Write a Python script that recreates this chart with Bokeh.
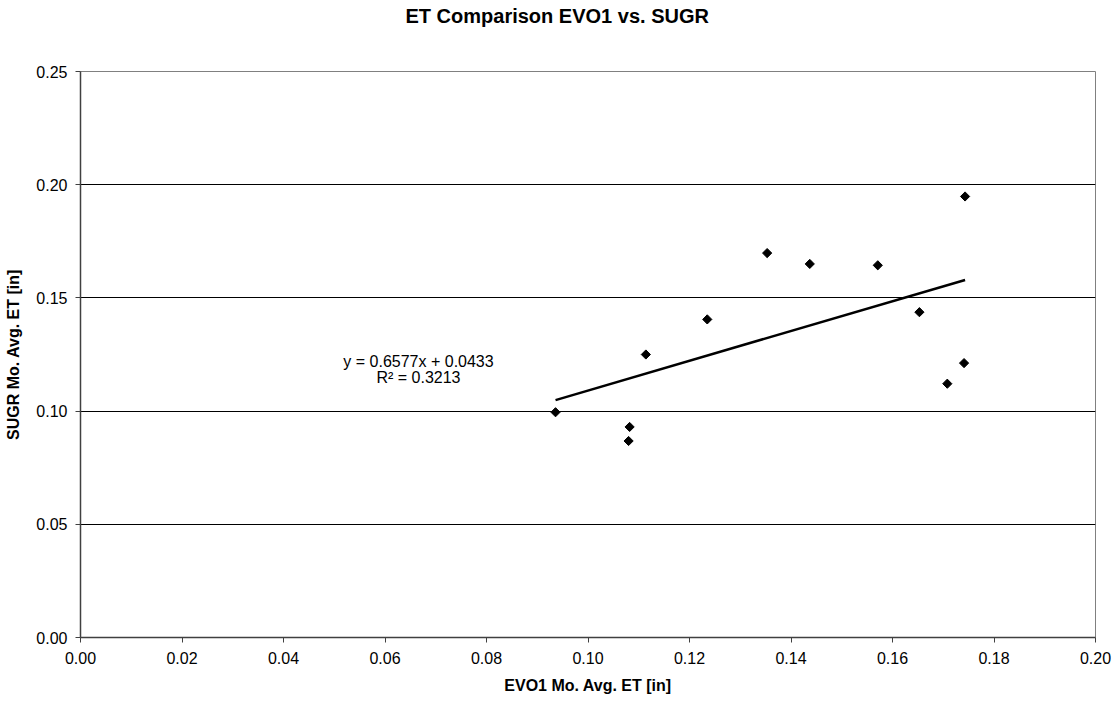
import math
from bokeh.plotting import figure
from bokeh.models import Range1d, FixedTicker, Label, ColumnDataSource, NumeralTickFormatter, Title
from bokeh.embed import file_html
from bokeh.resources import INLINE

# Data
evo1_et = [0.0936, 0.1082, 0.1080, 0.1114, 0.1235, 0.1353, 0.1437, 0.1571, 0.1653, 0.1708, 0.1741, 0.1743]
sugr_et = [0.0995, 0.0930, 0.0868, 0.1250, 0.1405, 0.1698, 0.1650, 0.1644, 0.1437, 0.1121, 0.1212, 0.1948]
slope = 0.6577
intercept = 0.0433
r_squared = 0.3213
x_ticks = [0.00, 0.02, 0.04, 0.06, 0.08, 0.10, 0.12, 0.14, 0.16, 0.18, 0.20]
y_ticks = [0.00, 0.05, 0.10, 0.15, 0.20, 0.25]
title_text = "ET Comparison EVO1 vs. SUGR"

FONT = "Liberation Sans"

p = figure(width=1112, height=696, output_backend="svg", toolbar_location=None,
           x_range=Range1d(0, 0.20), y_range=Range1d(0, 0.25),
           min_border_left=80, min_border_right=17, min_border_top=71, min_border_bottom=58)

# spacer panel between frame and title, then the title itself
spacer = Title(text=" ", text_font_size="1px", standoff=42)
title = Title(text=title_text, text_font=FONT, text_font_size="20px", text_font_style="bold",
              text_color="black", align="left", offset=325, standoff=0)
p.add_layout(spacer, "above")
p.add_layout(title, "above")

p.outline_line_color = "#808080"
p.outline_line_width = 1
p.background_fill_color = "white"
p.border_fill_color = "white"

p.xgrid.visible = False
p.ygrid.grid_line_color = "black"
p.ygrid.grid_line_width = 1
p.ygrid.ticker = FixedTicker(ticks=y_ticks)

for ax in (p.xaxis[0], p.yaxis[0]):
    ax.axis_line_color = "#404040"
    ax.axis_line_width = 1.5
    ax.major_tick_line_color = "#404040"
    ax.major_tick_in = 0
    ax.major_tick_out = 5
    ax.minor_tick_line_color = None
    ax.major_label_text_font = FONT
    ax.major_label_text_font_size = "16px"
    ax.major_label_text_color = "black"
    ax.axis_label_text_font = FONT
    ax.axis_label_text_font_size = "16px"
    ax.axis_label_text_font_style = "bold"
    ax.axis_label_text_color = "black"

p.xaxis.ticker = FixedTicker(ticks=x_ticks)
p.yaxis.ticker = FixedTicker(ticks=y_ticks)
p.xaxis.formatter = NumeralTickFormatter(format="0.00")
p.yaxis.formatter = NumeralTickFormatter(format="0.00")
p.xaxis.axis_label = "EVO1 Mo. Avg. ET [in]"
p.yaxis.axis_label = "SUGR Mo. Avg. ET [in]"
p.xaxis.major_label_standoff = 9
p.yaxis.major_label_standoff = 8
p.xaxis.axis_label_standoff = 10
p.yaxis.axis_label_standoff = 11

# Trendline from the fitted equation over the data's x extent
x0, x1 = min(evo1_et), max(evo1_et)
p.line([x0, x1], [slope * x0 + intercept, slope * x1 + intercept], line_color="black", line_width=2.5)

src = ColumnDataSource(dict(x=evo1_et, y=sugr_et))
p.scatter("x", "y", source=src, marker="square", angle=math.pi / 4, size=6.5,
          fill_color="black", line_color="black", line_width=1)

eq1 = Label(x=0.0666, y=0.1221, text=f"y = {slope:.4f}x + {intercept:.4f}", text_align="center",
            text_baseline="middle", text_font=FONT, text_font_size="16px", text_color="black")
eq2 = Label(x=0.0666, y=0.1150, text=f"R\u00b2 = {r_squared:.4f}", text_align="center",
            text_baseline="middle", text_font=FONT, text_font_size="16px", text_color="black")
p.add_layout(eq1)
p.add_layout(eq2)

open("out.html", "w").write(file_html(p, INLINE))
